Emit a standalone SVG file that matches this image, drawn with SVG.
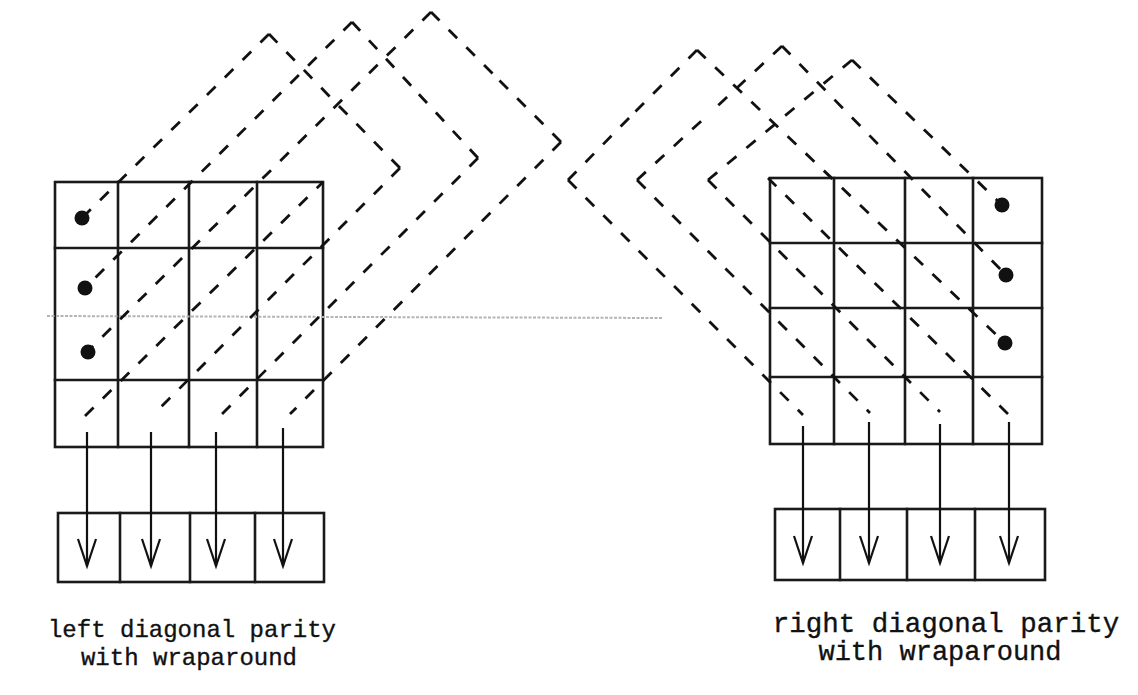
<svg xmlns="http://www.w3.org/2000/svg" width="1138" height="695" viewBox="0 0 1138 695">
  <defs>
    <style>
      .grid { fill: none; stroke: #1a1a1a; stroke-width: 2.6; stroke-linecap: square; }
      .faint { fill: none; stroke: #b4b4b4; stroke-width: 2; stroke-dasharray: 3 1.5; }
      .diag { fill: none; stroke: #111; stroke-width: 2.8; stroke-dasharray: 12 13; stroke-linecap: butt; }
      .dot { fill: #111; }
      .arrow { fill: none; stroke: #111; stroke-width: 2.2; marker-end: url(#vhead); }
      .label { font-family: "Liberation Mono", "DejaVu Sans Mono", monospace; fill: #111; stroke: #111; stroke-width: 0.35; text-anchor: middle; }
    </style>
    <!-- open V arrowhead -->
    <marker id="vhead" viewBox="-30 -12 34 24" refX="0" refY="0" markerWidth="34" markerHeight="24" markerUnits="userSpaceOnUse" orient="auto" overflow="visible">
      <path d="M -27 -9 L 0 0 L -27 9" fill="none" stroke="#111" stroke-width="2.2" stroke-linejoin="miter"/>
    </marker>
  </defs>

  <rect x="0" y="0" width="1138" height="695" fill="#ffffff"/>

  <!-- left 4x4 data array -->
  <g id="left-array">
    <rect class="grid" x="55" y="182" width="268" height="265"/>
    <path class="grid" d="M118 182 V447 M189 182 V447 M257 182 V447 M55 248 H323 M55 380 H323"/>
    <circle class="dot" cx="82" cy="218" r="7.5"/>
    <circle class="dot" cx="85" cy="288" r="7.5"/>
    <circle class="dot" cx="88" cy="352" r="7.5"/>
  </g>

  <!-- faint rule across the middle of the left array -->
  <path class="faint" d="M47 316 L663 318"/>

  <!-- right 4x4 data array -->
  <g id="right-array">
    <rect class="grid" x="770" y="178" width="272" height="266"/>
    <path class="grid" d="M834 178 V444 M905 178 V444 M973 178 V444 M770 243 H1042 M770 308 H1042 M770 377 H1042"/>
    <circle class="dot" cx="1002" cy="205" r="7.5"/>
    <circle class="dot" cx="1006" cy="275" r="7.5"/>
    <circle class="dot" cx="1005" cy="343" r="7.5"/>
  </g>

  <!-- parity rows -->
  <g id="left-parity">
    <rect class="grid" x="58" y="513" width="266" height="69"/>
    <path class="grid" d="M120 513 V582 M190 513 V582 M255 513 V582"/>
  </g>
  <g id="right-parity">
    <rect class="grid" x="775" y="509" width="270" height="71"/>
    <path class="grid" d="M840 509 V580 M907 509 V580 M975 509 V580"/>
  </g>

  <!-- diagonal traces; each run starts at a corner so the corners stay inked -->
  <g id="connectors">
    <!-- left diagonals, wrapping over the top and back in from the right -->
    <path class="diag" d="M85 416 L323 182"/>
    <path class="diag" d="M269 34 L82 218"/>
    <path class="diag" d="M269 34 L334 101"/>
    <path class="diag" d="M400 168 L334 101"/>
    <path class="diag" d="M400 168 L153 415"/>

    <path class="diag" d="M352 22 L85 288"/>
    <path class="diag" d="M352 22 L415 90"/>
    <path class="diag" d="M478 158 L415 90"/>
    <path class="diag" d="M478 158 L220 416"/>

    <path class="diag" d="M431 12 L87 352"/>
    <path class="diag" d="M431 12 L496 77"/>
    <path class="diag" d="M561 142 L496 77"/>
    <path class="diag" d="M561 142 L290 414"/>

    <!-- right diagonals, wrapping over the top and back in from the left -->
    <path class="diag" d="M1008 414 L768 178"/>
    <path class="diag" d="M697 50 L1005 343"/>
    <path class="diag" d="M697 50 L632 115"/>
    <path class="diag" d="M568 180 L632 115"/>
    <path class="diag" d="M568 180 L803 415"/>

    <path class="diag" d="M782 46 L1006 275"/>
    <path class="diag" d="M782 46 L710 113"/>
    <path class="diag" d="M637 180 L710 113"/>
    <path class="diag" d="M637 180 L870 413"/>

    <path class="diag" d="M852 60 L1002 205"/>
    <path class="diag" d="M852 60 L780 120"/>
    <path class="diag" d="M708 180 L780 120"/>
    <path class="diag" d="M708 180 L940 412"/>

    <!-- parity outputs -->
    <path class="arrow" d="M87 432 V566"/>
    <path class="arrow" d="M151 432 V566"/>
    <path class="arrow" d="M216 432 V566"/>
    <path class="arrow" d="M283 428 V566"/>

    <path class="arrow" d="M803 426 V563"/>
    <path class="arrow" d="M869 422 V563"/>
    <path class="arrow" d="M940 424 V563"/>
    <path class="arrow" d="M1009 422 V563"/>
  </g>

  <g id="left-caption">
    <text class="label" x="192" y="637" font-size="24">left diagonal parity</text>
    <text class="label" x="189" y="665" font-size="24">with wraparound</text>
  </g>
  <g id="right-caption">
    <text class="label" x="946" y="632" font-size="27.5">right diagonal parity</text>
    <text class="label" x="940" y="660" font-size="27">with wraparound</text>
  </g>
</svg>
